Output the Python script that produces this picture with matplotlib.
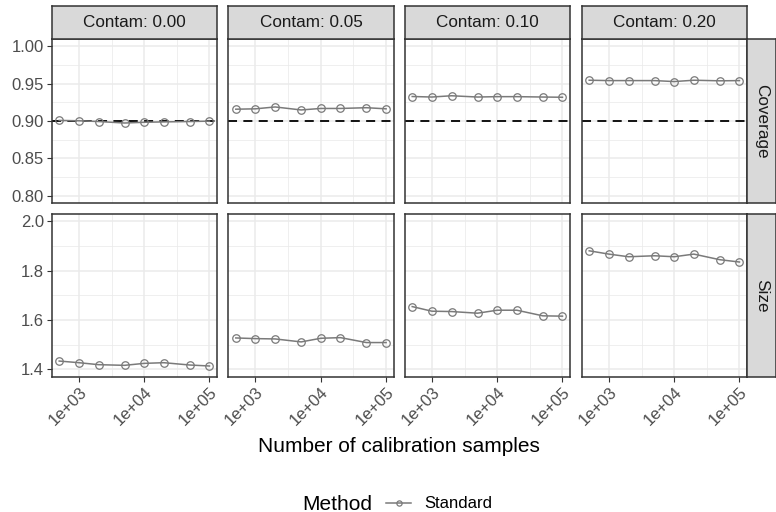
import matplotlib
matplotlib.use("Agg")
import matplotlib.pyplot as plt
from matplotlib.patches import Rectangle

plt.rcParams["font.family"] = ["Liberation Sans", "DejaVu Sans"]

# ---- data ----
n_samples = [500, 1000, 2000, 5000, 10000, 20000, 50000, 100000]
contam_levels = ["0.00", "0.05", "0.10", "0.20"]
metrics = ["Coverage", "Size"]

coverage = {
    "0.00": [0.901, 0.9005, 0.8995, 0.8975, 0.8985, 0.899, 0.8995, 0.900],
    "0.05": [0.916, 0.9165, 0.919, 0.915, 0.917, 0.917, 0.918, 0.9165],
    "0.10": [0.933, 0.9323, 0.934, 0.9323, 0.9328, 0.9328, 0.9323, 0.932],
    "0.20": [0.9548, 0.9543, 0.9543, 0.9543, 0.953, 0.9548, 0.954, 0.9543],
}
size = {
    "0.00": [1.4335, 1.4268, 1.4188, 1.4161, 1.4241, 1.4268, 1.4174, 1.4134],
    "0.05": [1.5272, 1.5245, 1.5232, 1.5111, 1.5259, 1.5285, 1.5085, 1.5085],
    "0.10": [1.6544, 1.6357, 1.6343, 1.6276, 1.6397, 1.6397, 1.6169, 1.6156],
    "0.20": [1.8807, 1.8673, 1.8566, 1.8606, 1.8566, 1.8673, 1.8446, 1.8352],
}
target_coverage = 0.90

x_major = [1e3, 1e4, 1e5]
x_labels = ["1e+03", "1e+04", "1e+05"]
x_minor = [10 ** 3.5, 10 ** 4.5]
y_major = {"Coverage": [0.80, 0.85, 0.90, 0.95, 1.00], "Size": [1.4, 1.6, 1.8, 2.0]}
y_minor = {"Coverage": [0.825, 0.875, 0.925, 0.975], "Size": [1.5, 1.7, 1.9]}
y_fmt = {"Coverage": "{:.2f}", "Size": "{:.1f}"}
y_lim = {"Coverage": (0.79, 1.01), "Size": (1.37, 2.03)}
x_lim = (10 ** 2.584, 10 ** 5.115)

W, H = 776, 512
BORDER = "#333333"
GRID = "#EBEBEB"
STRIP_FILL = "#D9D9D9"
LINE_COL = "#7A7A7A"

fig = plt.figure(figsize=(W / 100, H / 100), dpi=100)


def px_box(x0, y0, x1, y1):
    # pixel box (top-left origin) -> figure fraction rect
    return [x0 / W, 1 - y1 / H, (x1 - x0) / W, (y1 - y0) / H]


def strip(box, label, rotation=0):
    sax = fig.add_axes(box)
    sax.add_patch(Rectangle((0, 0), 1, 1, transform=sax.transAxes,
                            facecolor=STRIP_FILL, edgecolor="none"))
    sax.text(0.5, 0.5, label, ha="center", va="center", rotation=rotation,
             fontsize=12.3, color="#1A1A1A")
    sax.set_xticks([])
    sax.set_yticks([])
    for s in sax.spines.values():
        s.set_color(BORDER)
        s.set_linewidth(1.1)


col_left = [51.7, 228.3, 404.7, 581.7]
panel_w = 165.3
row_top = [39.0, 214.0]
row_bot = [203.3, 376.7]

line_handle = None
for ri, metric in enumerate(metrics):
    data = coverage if metric == "Coverage" else size
    for ci, lev in enumerate(contam_levels):
        x0 = col_left[ci]
        ax = fig.add_axes(px_box(x0, row_top[ri], x0 + panel_w, row_bot[ri]))
        ax.set_xscale("log")
        ax.set_xlim(*x_lim)
        ax.set_ylim(*y_lim[metric])
        for v in x_minor:
            ax.axvline(v, color=GRID, lw=0.55, zorder=0)
        for v in y_minor[metric]:
            ax.axhline(v, color=GRID, lw=0.55, zorder=0)
        for v in x_major:
            ax.axvline(v, color=GRID, lw=1.1, zorder=0)
        for v in y_major[metric]:
            ax.axhline(v, color=GRID, lw=1.1, zorder=0)
        if metric == "Coverage":
            ax.axhline(target_coverage, color="black", lw=1.3, ls=(0, (5, 3.5)), zorder=2)
        (ln,) = ax.plot(n_samples, data[lev], color=LINE_COL, lw=1.1, marker="o",
                        ms=5.4, mfc="none", mec=LINE_COL, mew=0.9, zorder=3)
        line_handle = ln

        ax.minorticks_off()
        ax.set_xticks(x_major)
        ax.set_yticks(y_major[metric])
        ax.tick_params(length=3.5, width=0.8, color=BORDER, labelsize=12,
                       labelcolor="#4D4D4D", pad=2)
        if ci == 0:
            ax.set_yticklabels([y_fmt[metric].format(v) for v in y_major[metric]])
        else:
            ax.tick_params(axis="y", left=False, labelleft=False)
        if ri == 1:
            ax.set_xticklabels(x_labels, rotation=45, ha="right",
                               rotation_mode="anchor")
        else:
            ax.tick_params(axis="x", bottom=False, labelbottom=False)
        for s in ax.spines.values():
            s.set_color(BORDER)
            s.set_linewidth(1.1)

        if ri == 0:
            strip(px_box(x0, 6.0, x0 + panel_w, row_top[0]), f"Contam: {lev}")
        if ci == len(contam_levels) - 1:
            strip(px_box(x0 + panel_w, row_top[ri], 775.5, row_bot[ri]), metric,
                  rotation=-90)

fig.text(0.5 * (col_left[0] + col_left[-1] + panel_w) / W, 1 - 447 / H,
         "Number of calibration samples", ha="center", va="center", fontsize=15)

fig.text(372 / W, 1 - 504 / H, "Method", ha="right", va="center", fontsize=15)
fig.legend([line_handle], ["Standard"], loc="center left",
           bbox_to_anchor=(386 / W, 1 - 504 / H), frameon=False,
           fontsize=12, handlelength=1.5, handletextpad=0.8, markerscale=0.7,
           borderaxespad=0, borderpad=0)

fig.savefig("out.png", dpi=100)
